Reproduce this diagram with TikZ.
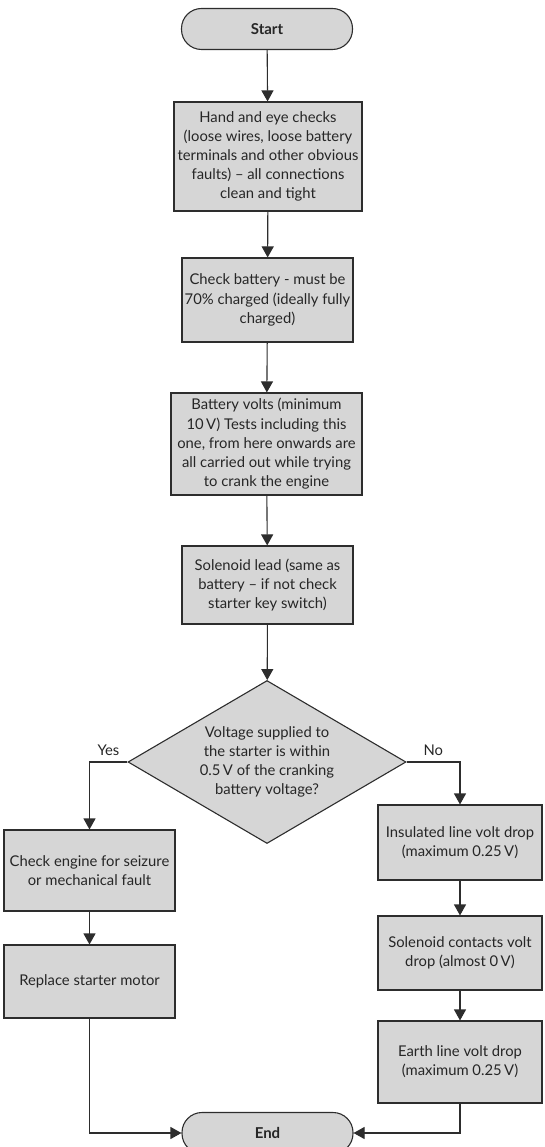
\documentclass[tikz,border=0pt]{standalone}
\usepackage{fontspec}
\setmainfont{Lato}
\usetikzlibrary{arrows.meta,shapes.geometric}
\definecolor{boxgray}{RGB}{214,214,214}
\definecolor{edgegray}{RGB}{45,45,45}

\begin{document}
\begin{tikzpicture}[x=1pt, y=-1pt, >={Triangle[length=11pt,width=12pt]},
 font=\fontsize{14.8}{19.2}\selectfont, text=black!85,
 b/.style={draw=edgegray, line width=1.1pt, fill=boxgray, align=center, inner sep=2pt},
 t/.style={b, rounded corners=20pt, minimum width=171pt, minimum height=41pt, font=\fontsize{15}{19}\selectfont\bfseries},
 d/.style={b, diamond, aspect=1.7, inner sep=0pt, minimum width=278pt, minimum height=163pt},
 l/.style={draw=edgegray, line width=1.1pt}]
\useasboundingbox (0,0) rectangle (544,1147);
\node[t] (start) at (267,29) {Start};
\node[b, minimum width=188pt, minimum height=109pt] (hand) at (268,156.5)
 {Hand and eye checks\\ (loose wires, loose battery\\ terminals and other obvious\\ faults) -- all connections\\ clean and tight};
\node[b, minimum width=171pt, minimum height=84pt] (batt) at (267.5,300)
 {Check battery - must be\\ 70\% charged (ideally fully\\ charged)};
\node[b, minimum width=191pt, minimum height=102pt] (volts) at (266.5,444)
 {Battery volts (minimum\\ 10\,V) Tests including this\\ one, from here onwards are\\ all carried out while trying\\ to crank the engine};
\node[b, minimum width=171pt, minimum height=78pt] (lead) at (267.5,585)
 {Solenoid lead (same as\\ battery -- if not check\\ starter key switch)};
\node[d] (dec) at (267,762)
 {Voltage supplied to\\ the starter is within\\ 0.5\,V of the cranking\\ battery voltage?};
\node[b, minimum width=171pt, minimum height=81pt] (seize) at (89.5,870.5)
 {Check engine for seizure\\ or mechanical fault};
\node[b, minimum width=171pt, minimum height=73pt] (motor) at (89.5,981.5)
 {Replace starter motor};
\node[b, minimum width=164pt, minimum height=75pt] (ins) at (460,842.5)
 {Insulated line volt drop\\ (maximum 0.25\,V)};
\node[b, minimum width=164pt, minimum height=74pt] (sol) at (460,953)
 {Solenoid contacts volt\\ drop (almost 0\,V)};
\node[b, minimum width=164pt, minimum height=82pt] (earth) at (460,1062)
 {Earth line volt drop\\ (maximum 0.25\,V)};
\node[t] (end) at (267.5,1133) {End};
\draw[l,->] (start) -- (hand);
\draw[l,->] (hand) -- (batt);
\draw[l,->] (batt) -- (volts);
\draw[l,->] (volts) -- (lead);
\draw[l,->] (lead) -- (dec);
\draw[l,->] (dec.west) -| node[pos=.25, above=3pt] (yes) {Yes} (seize.north);
\draw[l,->] (dec.east) -| node[pos=.25, above=3pt] (no) {No} (ins.north);
\draw[l,->] (seize) -- (motor);
\draw[l,->] (ins) -- (sol);
\draw[l,->] (sol) -- (earth);
\draw[l,->] (motor.south) |- (end.west);
\draw[l,->] (earth.south) |- (end.east);
\end{tikzpicture}
\end{document}
